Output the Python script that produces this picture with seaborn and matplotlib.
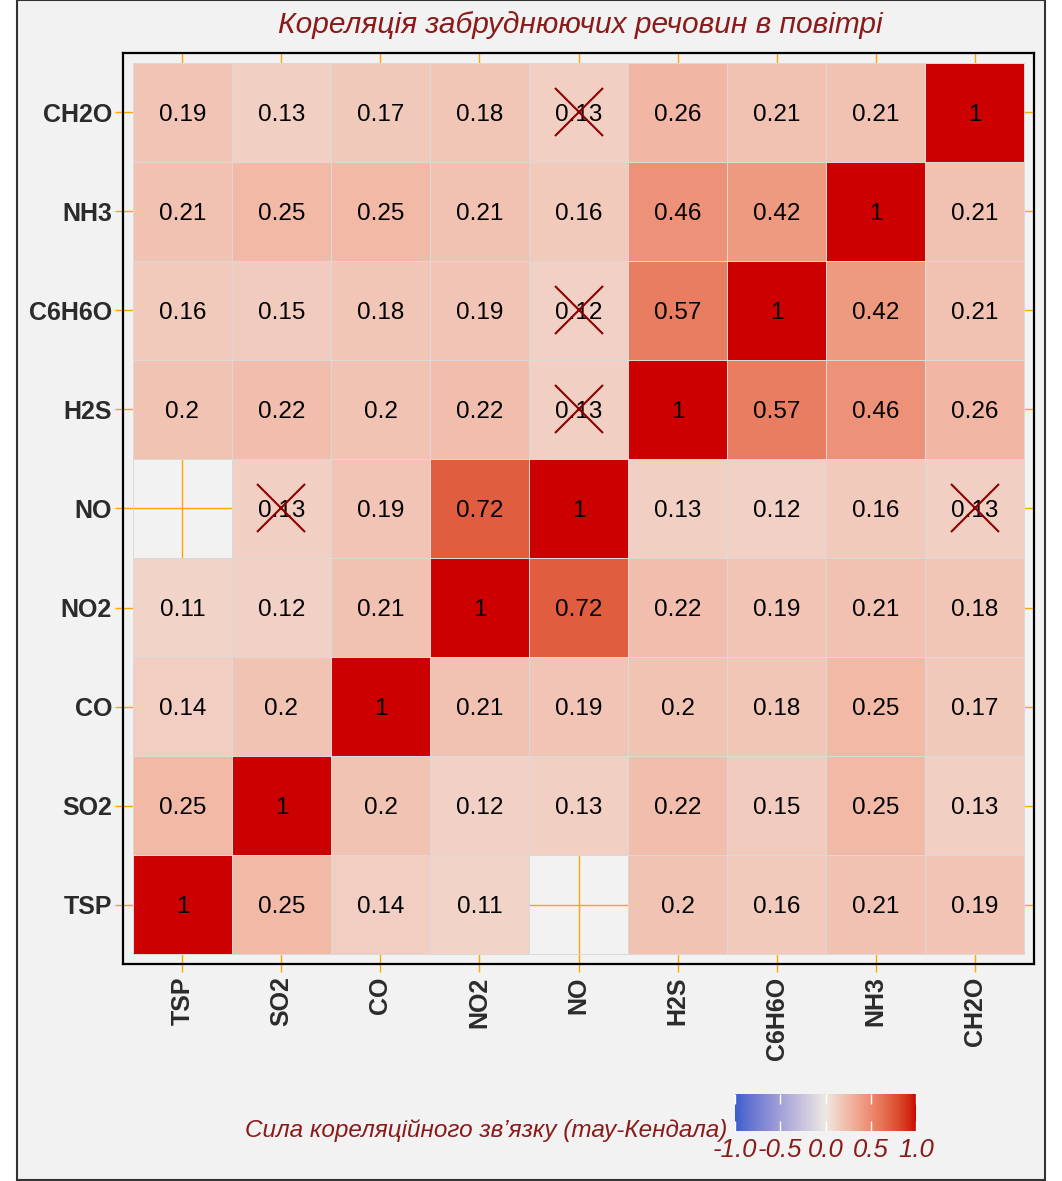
# Kendall correlation heatmap of air pollutants
import numpy as np
import pandas as pd
import matplotlib
matplotlib.use('Agg')
import matplotlib.pyplot as plt
from matplotlib.colors import ListedColormap, to_rgb
from matplotlib.patches import Rectangle
import seaborn as sns

# data
variables = ['TSP', 'SO2', 'CO', 'NO2', 'NO', 'H2S', 'C6H6O', 'NH3', 'CH2O']
tsp = [1, 0.25, 0.14, 0.11, np.nan, 0.2, 0.16, 0.21, 0.19]
so2 = [0.25, 1, 0.2, 0.12, 0.13, 0.22, 0.15, 0.25, 0.13]
co = [0.14, 0.2, 1, 0.21, 0.19, 0.2, 0.18, 0.25, 0.17]
no2 = [0.11, 0.12, 0.21, 1, 0.72, 0.22, 0.19, 0.21, 0.18]
no = [np.nan, 0.13, 0.19, 0.72, 1, 0.13, 0.12, 0.16, 0.13]
h2s = [0.2, 0.22, 0.2, 0.22, 0.13, 1, 0.57, 0.46, 0.26]
c6h6o = [0.16, 0.15, 0.18, 0.19, 0.12, 0.57, 1, 0.42, 0.21]
nh3 = [0.21, 0.25, 0.25, 0.21, 0.16, 0.46, 0.42, 1, 0.21]
ch2o = [0.19, 0.13, 0.17, 0.18, 0.13, 0.26, 0.21, 0.21, 1]
# insignificant pairs (row variable, column variable)
crossed = [('CH2O', 'NO'), ('C6H6O', 'NO'), ('H2S', 'NO'),
           ('NO', 'SO2'), ('NO', 'CH2O')]
cbar_ticks = [-1.0, -0.5, 0.0, 0.5, 1.0]
cbar_ticklabels = ['-1.0', '-0.5', '0.0', '0.5', '1.0']

title = 'Кореляція забруднюючих речовин в повітрі'
legend_title = 'Сила кореляційного зв’язку (тау-Кендала)'

corr = pd.DataFrame([tsp, so2, co, no2, no, h2s, c6h6o, nh3, ch2o],
                    index=variables, columns=variables)
shown = corr.iloc[::-1]   # CH2O on top
annot = shown.map(lambda v: '' if np.isnan(v) else f'{v:g}')

# gradient blue - white - red, interpolated in Lab like ggplot
def srgb_to_lab(c):
    c = np.asarray(c, float)
    lin = np.where(c > 0.04045, ((c + 0.055) / 1.055) ** 2.4, c / 12.92)
    M = np.array([[0.4124, 0.3576, 0.1805],
                  [0.2126, 0.7152, 0.0722],
                  [0.0193, 0.1192, 0.9505]])
    xyz = M @ lin / np.array([0.95047, 1.0, 1.08883])
    f = np.where(xyz > 0.008856, np.cbrt(xyz), 7.787 * xyz + 16 / 116)
    return np.array([116 * f[1] - 16, 500 * (f[0] - f[1]), 200 * (f[1] - f[2])])

def lab_to_srgb(lab):
    L, a, b = lab
    fy = (L + 16) / 116
    f = np.array([fy + a / 500, fy, fy - b / 200])
    xyz = np.where(f ** 3 > 0.008856, f ** 3, (f - 16 / 116) / 7.787)
    xyz = xyz * np.array([0.95047, 1.0, 1.08883])
    Mi = np.array([[3.2406, -1.5372, -0.4986],
                   [-0.9689, 1.8758, 0.0415],
                   [0.0557, -0.2040, 1.0570]])
    lin = Mi @ xyz
    c = np.where(lin > 0.0031308, 1.055 * np.abs(lin) ** (1 / 2.4) - 0.055, 12.92 * lin)
    return np.clip(c, 0, 1)

low, mid, high = srgb_to_lab(to_rgb('#3A5FCD')), srgb_to_lab(to_rgb('#EEE8E2')), srgb_to_lab(to_rgb('#CC0000'))
cols = []
for t in np.linspace(-1, 1, 256):
    if t < 0:
        lab = mid + (low - mid) * (-t)
    else:
        lab = mid + (high - mid) * t
    cols.append(lab_to_srgb(lab))
cmap = ListedColormap(cols)

plt.rcParams['font.family'] = ['Liberation Sans', 'DejaVu Sans']
plt.rcParams['axes.unicode_minus'] = False

W, H = 1062, 1181
fig = plt.figure(figsize=(W / 100, H / 100), dpi=100)
fig.patch.set_facecolor('white')
fig.patches.append(Rectangle((17 / W, 1 - 1180 / H), (1045 - 17) / W, 1180 / H,
                             transform=fig.transFigure, facecolor='#f2f2f2',
                             edgecolor='#333333', linewidth=1.5, zorder=-10))

ax = fig.add_axes([123 / W, 1 - 964 / H, (1034 - 123) / W, (964 - 53) / H])
cax = fig.add_axes([735 / W, 1 - 1131 / H, 181 / W, 37 / H])

sns.heatmap(shown, ax=ax, cmap=cmap, vmin=-1, vmax=1, annot=annot, fmt='',
            annot_kws={'fontsize': 17.5, 'color': 'black'},
            linewidths=0.5, linecolor='#d9d9d9', square=False,
            cbar_ax=cax, cbar_kws={'orientation': 'horizontal', 'ticks': cbar_ticks})
for t in ax.texts:
    t.set_va('center_baseline')

# insignificant marks
for r, c in crossed:
    yi = list(shown.index).index(r)
    xi = variables.index(c)
    ax.plot(xi + 0.5, yi + 0.5, marker='x', markersize=34, mew=1.5,
            color='#8B0000', linestyle='none', zorder=5)

ax.set_xlim(-0.1, 9.1)
ax.set_ylim(9.1, -0.1)
ax.set_facecolor('#f2f2f2')
ax.set_axisbelow(True)
ax.grid(True, color='#FFA500', linewidth=1)
for s in ax.spines.values():
    s.set_visible(True)
    s.set_color('black')
    s.set_linewidth(1.6)
ax.set_xlabel('')
ax.set_ylabel('')
ax.tick_params(axis='both', length=6, width=1, color='#FFA500', pad=3,
               labelsize=18, labelcolor='#2b2b2b')
ax.tick_params(axis='y', pad=2)
ax.set_xticklabels(variables, rotation=90, fontweight='bold')
ax.set_yticklabels(list(shown.index), rotation=0, fontweight='bold', va='center_baseline')

# colorbar
cbar = ax.collections[0].colorbar
cbar.outline.set_visible(False)
cax.set_xticks(cbar_ticks)
cax.set_xticklabels(cbar_ticklabels, fontsize=18.5, style='italic', color='#8B1A1A')
cax.tick_params(axis='x', direction='in', length=7, width=1, color='white',
                top=True, bottom=True, pad=5)

fig.text(580 / W, 1 - 22 / H, title, fontsize=21.5, style='italic', color='#8B1A1A',
         ha='center', va='center_baseline')
fig.text(727 / W, 1 - 1130 / H, legend_title, fontsize=17.5, style='italic',
         color='#8B1A1A', ha='right', va='center')

fig.savefig('out.png', dpi=100, facecolor=fig.get_facecolor())
